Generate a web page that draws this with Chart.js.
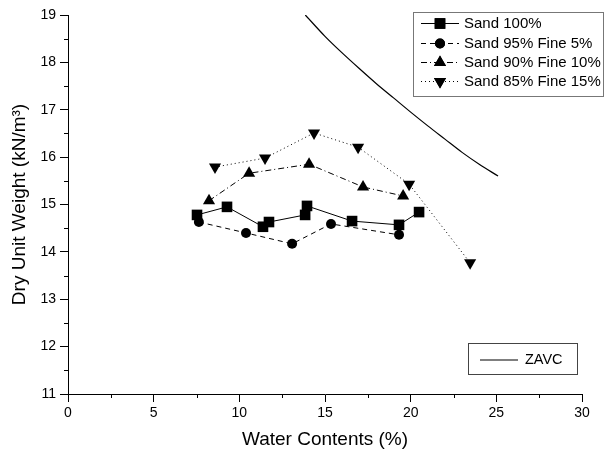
<!DOCTYPE html>
<html>
<head>
<meta charset="utf-8">
<script src="https://cdn.jsdelivr.net/npm/chart.js@4/dist/chart.umd.min.js"></script>
<style>
  body { margin: 0; background: #fff; }
  #wrap { width: 606px; height: 457px; }
</style>
</head>
<body>
<div id="wrap"><canvas id="Chart" width="606" height="457"></canvas></div>
<script>
// values
const sand100X = [7.53, 9.28, 11.38, 11.73, 13.84, 13.95, 16.58, 19.32, 20.49];
const sand100Y = [14.78, 14.95, 14.53, 14.63, 14.78, 14.97, 14.65, 14.57, 14.84];

const fine5X = [7.64, 10.39, 13.08, 15.35, 19.32];
const fine5Y = [14.63, 14.40, 14.17, 14.59, 14.36];

const fine10X = [8.23, 10.57, 14.07, 17.22, 19.56];
const fine10Y = [15.08, 15.66, 15.85, 15.37, 15.18];

const fine15X = [8.58, 11.5, 14.36, 16.93, 19.91, 23.47];
const fine15Y = [15.79, 15.98, 16.51, 16.21, 15.43, 13.77];

const zavcX = [13.85, 15, 16, 17, 18, 19, 20, 21, 22, 23, 24, 25.1];
const zavcY = [19.0, 18.55, 18.2, 17.87, 17.55, 17.25, 16.95, 16.66, 16.38, 16.1, 15.85, 15.6];

const xTicks = [0, 5, 10, 15, 20, 25, 30];
const yTicks = [11, 12, 13, 14, 15, 16, 17, 18, 19];

const FONT = "'Liberation Sans', Arial, sans-serif";

function pts(xs, ys) {
  return xs.map((x, i) => ({ x: x, y: ys[i] }));
}

// marker radius per style so squares, dots and triangles come out about the same size
const radius = { rect: 7.5, circle: 5, triangle: 7 };

function series(label, xs, ys, style, dash, rot) {
  return {
    label: label,
    data: pts(xs, ys),
    borderColor: "#000",
    backgroundColor: "#000",
    borderWidth: 1,
    borderDash: dash,
    pointStyle: style,
    pointRotation: rot || 0,
    pointRadius: radius[style],
    pointBorderWidth: 0,
    showLine: true,
    tension: 0,
  };
}

const datasets = [
  series("Sand 100%", sand100X, sand100Y, "rect", []),
  series("Sand 95% Fine 5%", fine5X, fine5Y, "circle", [5, 4]),
  series("Sand 90% Fine 10%", fine10X, fine10Y, "triangle", [6, 3, 1, 3]),
  series("Sand 85% Fine 15%", fine15X, fine15Y, "triangle", [1, 3], 180),
  {
    label: "ZAVC",
    data: pts(zavcX, zavcY),
    borderColor: "#000",
    borderWidth: 1.2,
    pointRadius: 0,
    showLine: true,
    tension: 0.3,
  },
];

// short minor ticks between the labelled ones + the two boxed legends
const extras = {
  id: "extras",
  afterDraw(chart) {
    const ctx = chart.ctx;
    const xs = chart.scales.x;
    const ys = chart.scales.y;
    const a = chart.chartArea;
    ctx.save();
    ctx.strokeStyle = "#000";
    ctx.lineWidth = 1;
    ctx.beginPath();
    for (let v = 2.5; v < 30; v += 5) {
      const px = Math.round(xs.getPixelForValue(v)) + 0.5;
      ctx.moveTo(px, a.bottom);
      ctx.lineTo(px, a.bottom + 4);
    }
    for (let v = 11.5; v < 19; v += 1) {
      const py = Math.round(ys.getPixelForValue(v)) + 0.5;
      ctx.moveTo(a.left, py);
      ctx.lineTo(a.left - 4, py);
    }
    ctx.stroke();

    // main legend
    ctx.font = "15px " + FONT;
    ctx.textBaseline = "middle";
    ctx.strokeStyle = "#777";
    ctx.strokeRect(413.5, 12.5, 190, 84);
    const rows = [23, 43, 62, 81];
    for (let i = 0; i < 4; i++) {
      const ds = datasets[i];
      const y = rows[i] + 0.5;
      ctx.strokeStyle = "#000";
      ctx.lineWidth = 1;
      ctx.setLineDash(ds.borderDash);
      ctx.beginPath();
      ctx.moveTo(421, y);
      ctx.lineTo(459, y);
      ctx.stroke();
      ctx.setLineDash([]);
      Chart.helpers.drawPoint(ctx, {
        pointStyle: ds.pointStyle,
        rotation: ds.pointRotation,
        radius: ds.pointRadius,
        borderWidth: 0,
      }, 440, y);
      ctx.fillStyle = "#000";
      ctx.fill();
      ctx.fillText(ds.label, 464, y);
    }

    // ZAVC legend
    ctx.strokeStyle = "#444";
    ctx.lineWidth = 1;
    ctx.strokeRect(468.5, 343.5, 109, 31);
    ctx.strokeStyle = "#000";
    ctx.lineWidth = 1.2;
    ctx.beginPath();
    ctx.moveTo(480, 360);
    ctx.lineTo(518, 360);
    ctx.stroke();
    ctx.fillStyle = "#000";
    ctx.font = "14.5px " + FONT;
    ctx.fillText("ZAVC", 525, 360);
    ctx.restore();
  },
};

const myChart = new Chart(document.querySelector("#Chart"), {
  type: "scatter",
  data: { datasets: datasets },
  options: {
    responsive: false,
    animation: false,
    layout: { padding: { top: 15, right: 24, left: 0, bottom: 0 } },
    plugins: { legend: { display: false }, tooltip: { enabled: false } },
    scales: {
      x: {
        min: 0,
        max: 30,
        afterBuildTicks: (s) => { s.ticks = xTicks.map((v) => ({ value: v })); },
        afterFit: (s) => { s.height = 63; },
        ticks: { color: "#000", font: { size: 14, family: FONT }, padding: 3 },
        grid: { drawOnChartArea: false, color: "#000", tickColor: "#000", tickLength: 8 },
        border: { color: "#000", width: 1 },
        title: {
          display: true,
          text: "Water Contents (%)",
          color: "#000",
          font: { size: 19, family: FONT },
          padding: { top: 0, bottom: 6 },
        },
      },
      y: {
        min: 11,
        max: 19,
        afterBuildTicks: (s) => { s.ticks = yTicks.map((v) => ({ value: v })); },
        afterFit: (s) => { s.width = 68; },
        ticks: { color: "#000", font: { size: 14, family: FONT }, padding: 4 },
        grid: { drawOnChartArea: false, color: "#000", tickColor: "#000", tickLength: 8 },
        border: { color: "#000", width: 1 },
        title: {
          display: true,
          text: "Dry Unit Weight (kN/m\u00b3)",
          color: "#000",
          font: { size: 19, family: FONT },
          padding: { top: 8, bottom: 0 },
        },
      },
    },
  },
  plugins: [extras],
});
</script>
</body>
</html>
